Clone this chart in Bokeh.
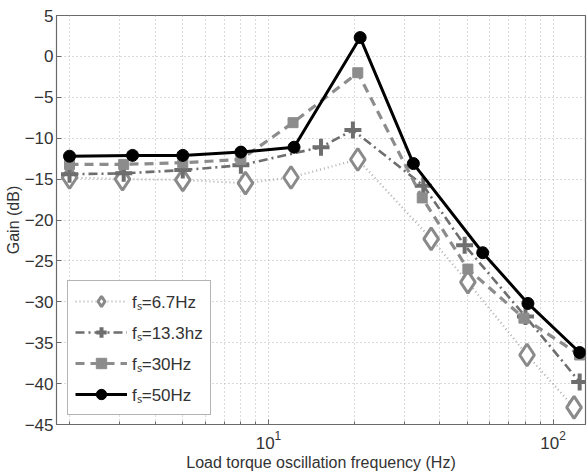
from bokeh.plotting import figure
from bokeh.models import Legend, LegendItem, FixedTicker, Range1d
from bokeh.embed import file_html
from bokeh.resources import INLINE

# fs = 6.7 Hz
x_67 = [2.0, 3.07, 5.0, 8.3, 12.0, 20.6, 37.3, 50.2, 81.0, 118.5]
gain_67 = [-14.8, -15.0, -15.1, -15.5, -14.8, -12.6, -22.3, -27.6, -36.5, -42.9]
# fs = 13.3 hz
x_133 = [2.0, 3.1, 5.0, 8.0, 15.3, 19.8, 35.0, 48.9, 80.0, 124.0]
gain_133 = [-14.4, -14.3, -13.9, -13.3, -11.1, -9.0, -15.8, -23.1, -31.8, -39.8]
# fs = 30 Hz
x_30 = [2.0, 3.1, 5.0, 8.0, 12.2, 20.6, 34.7, 50.2, 79.0, 124.0]
gain_30 = [-13.2, -13.2, -13.0, -12.6, -8.1, -2.0, -17.3, -26.0, -32.0, -36.5]
# fs = 50 Hz
x_50 = [2.0, 3.33, 5.0, 8.0, 12.3, 21.0, 32.3, 56.6, 81.6, 124.0]
gain_50 = [-12.2, -12.1, -12.1, -11.7, -11.1, 2.3, -13.1, -24.0, -30.2, -36.2]

labels = ["f\u209b=6.7Hz", "f\u209b=13.3hz", "f\u209b=30Hz", "f\u209b=50Hz"]
y_ticks = [-45, -40, -35, -30, -25, -20, -15, -10, -5, 0, 5]
x_major = [10, 100]
x_minor = [2, 3, 4, 5, 6, 7, 8, 9, 20, 30, 40, 50, 60, 70, 80, 90]

FONT = "Liberation Sans"

p = figure(width=588, height=476, x_axis_type="log",
           x_range=Range1d(1.8, 130), y_range=Range1d(-45, 5),
           output_backend="svg", toolbar_location=None,
           min_border_left=56, min_border_right=3, min_border_top=15, min_border_bottom=52)
p.background_fill_color = "white"
p.border_fill_color = "white"
p.outline_line_color = "#6a6a6a"
p.outline_line_width = 1.2

# axes
p.xaxis.ticker = FixedTicker(ticks=x_major, minor_ticks=x_minor)
p.yaxis.ticker = FixedTicker(ticks=y_ticks)
p.yaxis.major_label_overrides = {t: str(t).replace("-", "\u2212") for t in y_ticks}
for ax in [p.xaxis[0], p.yaxis[0]]:
    ax.axis_line_color = "#6a6a6a"
    ax.major_tick_line_color = "#6a6a6a"
    ax.minor_tick_line_color = "#6a6a6a"
    ax.major_tick_in = 5
    ax.major_tick_out = 0
    ax.minor_tick_in = 3
    ax.minor_tick_out = 0
    ax.major_label_text_font = FONT
    ax.major_label_text_font_size = "17px"
    ax.major_label_text_color = "#333333"
    ax.axis_label_text_font = FONT
    ax.axis_label_text_font_size = "16px"
    ax.axis_label_text_font_style = "normal"
    ax.axis_label_text_color = "#333333"
p.yaxis.minor_tick_line_color = None
p.yaxis.major_label_standoff = 3
p.yaxis.axis_label_standoff = 0
p.xaxis.major_label_standoff = 6
p.xaxis.axis_label_standoff = 2
p.xaxis.axis_label = "Load torque oscillation frequency (Hz)"
p.yaxis.axis_label = "Gain (dB)"

# grids
p.xgrid.grid_line_color = "#b5b5b5"
p.xgrid.grid_line_dash = "1 3"
p.xgrid.minor_grid_line_color = "#b5b5b5"
p.xgrid.minor_grid_line_dash = "1 3"
p.ygrid.grid_line_color = "#b5b5b5"
p.ygrid.grid_line_dash = "1 3"

# series
l1 = p.line(x_67, gain_67, line_color="#b0b0b0", line_width=2.2, line_dash="1 3")
s1 = p.scatter(x_67, gain_67, marker="diamond", size=22, fill_color="white",
               line_color="#8a8a8a", line_width=3)
l2 = p.line(x_133, gain_133, line_color="#6e6e6e", line_width=2.6, line_dash="9 4 2 4")
s2 = p.scatter(x_133, gain_133, marker="cross", size=17, line_color="#6e6e6e", line_width=4)
l3 = p.line(x_30, gain_30, line_color="#8c8c8c", line_width=3.2, line_dash="9 6")
s3 = p.scatter(x_30, gain_30, marker="square", size=10, fill_color="#8c8c8c",
               line_color="#8c8c8c")
l4 = p.line(x_50, gain_50, line_color="black", line_width=3)
s4 = p.scatter(x_50, gain_50, marker="circle", size=12, fill_color="black", line_color="black")

legend = Legend(items=[
    LegendItem(label=labels[0], renderers=[l1, s1]),
    LegendItem(label=labels[1], renderers=[l2, s2]),
    LegendItem(label=labels[2], renderers=[l3, s3]),
    LegendItem(label=labels[3], renderers=[l4, s4]),
], location=(11, 9))
legend.label_text_font = FONT
legend.label_text_font_size = "17px"
legend.label_text_color = "#333333"
legend.glyph_width = 52
legend.glyph_height = 26
legend.label_height = 26
legend.spacing = 5
legend.padding = 7
legend.margin = 0
legend.border_line_color = "#6a6a6a"
legend.border_line_width = 1.2
legend.background_fill_color = "white"
legend.background_fill_alpha = 1.0
p.add_layout(legend, "center")

open("out.html", "w").write(file_html(p, INLINE))
